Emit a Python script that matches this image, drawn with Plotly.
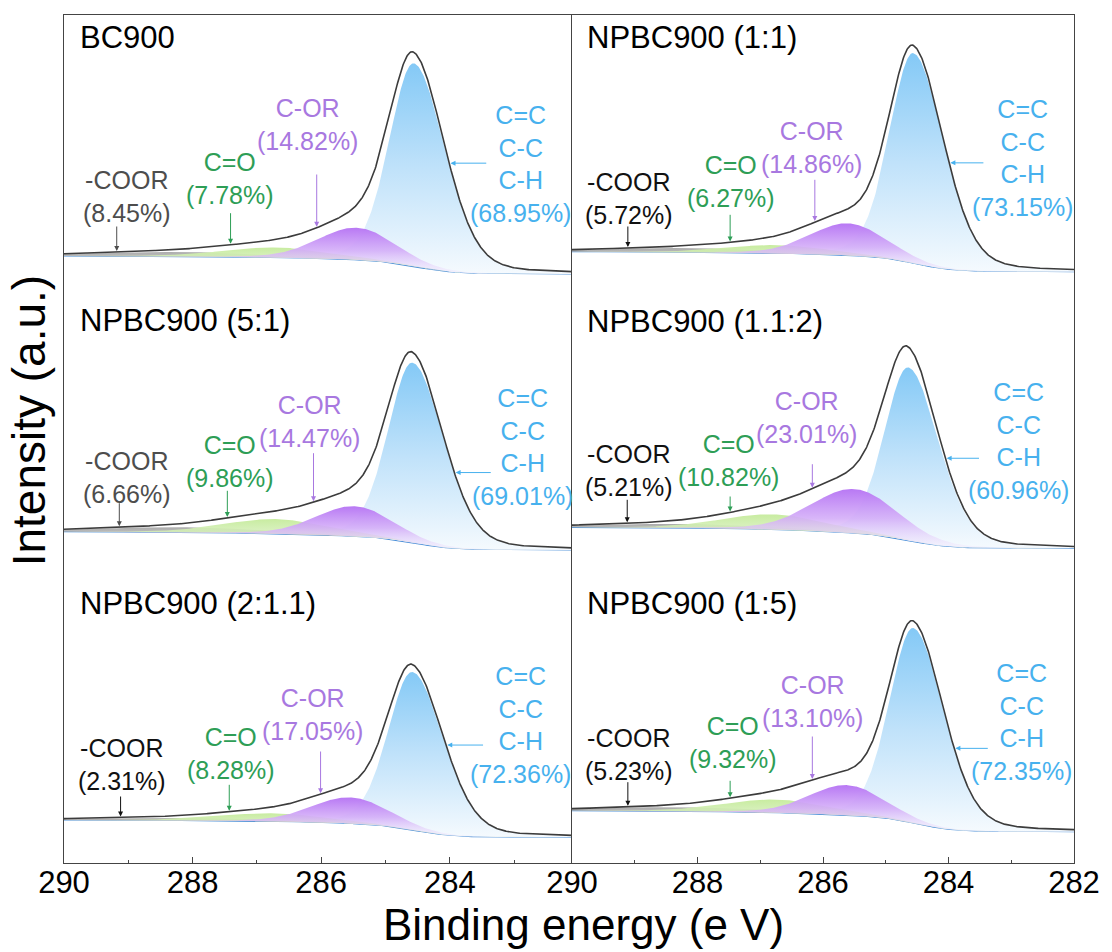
import numpy as np
import plotly.graph_objects as go

# ---------------- data ----------------
samples = ["BC900", "NPBC900 (5:1)", "NPBC900 (2:1.1)",
           "NPBC900 (1:1)", "NPBC900 (1.1:2)", "NPBC900 (1:5)"]
pct_cc = [68.95, 69.01, 72.36, 73.15, 60.96, 72.35]
pct_cor = [14.82, 14.47, 17.05, 14.86, 23.01, 13.10]
pct_co = [7.78, 9.86, 8.28, 6.27, 10.82, 9.32]
pct_coor = [8.45, 6.66, 2.31, 5.72, 5.21, 5.23]

# fitted peak parameters (binding energy in eV, heights in a.u.)
cc_center = [284.56, 284.58, 284.58, 284.56, 284.64, 284.56]
cc_height = [203, 180, 158, 210, 173, 195]
cor_center = [285.45, 285.48, 285.55, 285.60, 285.50, 285.62]
cor_height = [32, 30, 26, 32, 44, 30]
cor_fwhm = [1.4, 1.4, 1.4, 1.4, 1.6, 1.4]
co_center = [286.70, 286.70, 286.75, 286.72, 286.80, 286.75]
co_height = [10, 14.5, 8, 8, 15, 13]
coor_center = [288.2, 288.2, 288.2, 288.2, 288.2, 288.2]
coor_height = [4.5, 5, 2.5, 4, 4, 4]
# Shirley background level at the high-BE (290 eV) and low-BE (282 eV) ends,
# including the vertical stacking offset of each spectrum
bg_high = [607, 331.3, 43, 611.3, 335.7, 52.3]
bg_low = [589, 313, 25.7, 591.3, 314.7, 31.3]

x_ticks = [290, 288, 286, 284, 282]

# ---------------- layout constants ----------------
FONT = "Liberation Sans, Arial, sans-serif"
C_BLUE = "#47b1ee"
C_PURPLE = "#a878e0"
C_GREEN = "#2e9e56"
coor_colors = ["#4d4d4d", "#4d4d4d", "#111111", "#111111", "#111111", "#111111"]

# label positions (eV, a.u.) and arrow positions
lab_coor = [(289.02, 666.3), (289.02, 386), (289.10, 98.8), (289.09, 665), (289.09, 392.2), (289.09, 108.8)]
lab_co = [(287.42, 684.7), (287.42, 401.8), (287.41, 109.2), (287.47, 681.5), (287.51, 402.2), (287.43, 120.5)]
lab_cor = [(286.21, 738.5), (286.19, 441.8), (286.13, 148.3), (286.19, 715.2), (286.27, 445.3), (286.16, 161.8)]
lab_cc = [(282.90, 699), (282.87, 416), (282.90, 138.5), (282.82, 704.8), (282.89, 421.8), (282.84, 141.3)]
arr_coor = [(289.18, 638), (289.14, 361.3), (289.12, 68), (289.11, 638), (289.12, 364.7), (289.11, 82.3)]
arr_co = [(287.41, 651.3), (287.46, 373.7), (287.43, 79.7), (287.48, 649.7), (287.48, 368), (287.48, 83.7)]
arr_cor = [(286.07, 690), (286.12, 411.3), (286.01, 113), (286.13, 684.7), (286.17, 400.3), (286.17, 128)]
arr_cc = [(284.01, 283.41), (283.93, 283.34), (284.06, 283.46), (283.99, 283.42), (284.05, 283.49), (283.91, 283.35)]
title_y = [825.5, 543, 259.7, 825.7, 541.3, 259.7]

E = np.linspace(282.0, 290.0, 801)


def gl(e, c, h, hw_hi, hw_lo, m):
    w = np.where(e >= c, hw_hi, hw_lo)
    r = (e - c) / w
    return h * ((1 - m) * np.power(2.0, -r ** 2) + m / (1 + r ** 2))


fig = go.Figure()
annotations = []

blue_cs = [[0, "rgb(245,250,254)"], [0.5, "rgb(192,226,250)"], [1, "rgb(132,201,246)"]]
purple_cs = [[0, "rgba(242,234,252,0.4)"], [0.5, "rgba(212,174,248,0.9)"], [1, "rgb(184,120,244)"]]
green_cs = [[0, "rgba(230,244,218,0.7)"], [1, "rgb(200,236,160)"]]
gray_cs = [[0, "rgba(225,225,225,0.7)"], [1, "rgb(172,172,172)"]]

for i in range(6):
    xa = "x" if i < 3 else "x2"
    ya = "y" if i < 3 else "y2"
    cc = gl(E, cc_center[i], cc_height[i], 0.45, 0.57, 0.2)
    cor = gl(E, cor_center[i], cor_height[i], cor_fwhm[i] / 2, cor_fwhm[i] / 2, 0.1)
    co = gl(E, co_center[i], co_height[i], 0.95, 0.95, 0.1)
    coor = gl(E, coor_center[i], coor_height[i], 1.6, 1.6, 0.1)
    total = cc + cor + co + coor
    cum = np.concatenate([[0], np.cumsum((total[1:] + total[:-1]) / 2 * np.diff(E))])
    bg = bg_low[i] + (bg_high[i] - bg_low[i]) * cum / cum[-1]
    env = bg + total

    fig.add_trace(go.Scatter(x=E, y=bg, mode="lines", line=dict(color="#4a8fd8", width=1.2),
                             xaxis=xa, yaxis=ya, hoverinfo="skip", showlegend=False))
    for comp, cs in [(cc, blue_cs), (coor, gray_cs), (co, green_cs), (cor, purple_cs)]:
        fig.add_trace(go.Scatter(
            x=np.concatenate([E, E[::-1]]),
            y=np.concatenate([bg + comp, bg[::-1]]),
            mode="lines", line=dict(width=0), fill="toself",
            fillgradient=dict(type="vertical", colorscale=cs),
            xaxis=xa, yaxis=ya, hoverinfo="skip", showlegend=False))
    fig.add_trace(go.Scatter(x=E, y=env, mode="lines", line=dict(color="#3c3c3c", width=1.6),
                             xaxis=xa, yaxis=ya, hoverinfo="skip", showlegend=False))

    # panel title
    annotations.append(dict(x=289.79, y=title_y[i], xref=xa, yref=ya, text=samples[i],
                            showarrow=False, xanchor="left", yanchor="middle",
                            font=dict(family=FONT, size=31, color="#000")))
    # component labels
    annotations.append(dict(x=lab_coor[i][0], y=lab_coor[i][1], xref=xa, yref=ya,
                            text=f"-COOR<br>({pct_coor[i]:.2f}%)", showarrow=False,
                            font=dict(family=FONT, size=25, color=coor_colors[i])))
    annotations.append(dict(x=lab_co[i][0], y=lab_co[i][1], xref=xa, yref=ya,
                            text=f"C=O<br>({pct_co[i]:.2f}%)", showarrow=False,
                            font=dict(family=FONT, size=25, color=C_GREEN)))
    annotations.append(dict(x=lab_cor[i][0], y=lab_cor[i][1], xref=xa, yref=ya,
                            text=f"C-OR<br>({pct_cor[i]:.2f}%)", showarrow=False,
                            font=dict(family=FONT, size=25, color=C_PURPLE)))
    annotations.append(dict(x=lab_cc[i][0], y=lab_cc[i][1], xref=xa, yref=ya,
                            text=f"C=C<br>C-C<br>C-H<br>({pct_cc[i]:.2f}%)", showarrow=False,
                            font=dict(family=FONT, size=25, color=C_BLUE)))
    # arrows
    for (ex, tail), col in [(arr_coor[i], coor_colors[i]), (arr_co[i], C_GREEN), (arr_cor[i], C_PURPLE)]:
        tip = float(np.interp(ex, E, env)) + 1
        annotations.append(dict(x=ex, y=tip, ax=ex, ay=tail, xref=xa, yref=ya, axref=xa, ayref=ya,
                                text="", showarrow=True, arrowhead=2, arrowsize=1, arrowwidth=1,
                                arrowcolor=col))
    ex_tip, ex_tail = arr_cc[i]
    yv = float(np.interp(ex_tip, E, env))
    annotations.append(dict(x=ex_tip - 0.02, y=yv, ax=ex_tail, ay=yv, xref=xa, yref=ya, axref=xa, ayref=ya,
                            text="", showarrow=True, arrowhead=2, arrowsize=1, arrowwidth=1,
                            arrowcolor=C_BLUE))

annotations.append(dict(x=0.514, y=-0.0731, xref="paper", yref="paper", text="Binding energy (e V)",
                        showarrow=False, xanchor="center", yanchor="middle",
                        font=dict(family=FONT, size=44, color="#000")))
annotations.append(dict(x=-0.0347, y=0.522, xref="paper", yref="paper", text="Intensity (a.u.)",
                        showarrow=False, textangle=-90, xanchor="center", yanchor="middle",
                        font=dict(family=FONT, size=46, color="#000")))

line_common = dict(showgrid=False, zeroline=False, showline=True, linecolor="#444", linewidth=1.3)
split = 508 / 1010
xtick_common = dict(ticks="inside", ticklen=6, tickcolor="#444", ticklabelstandoff=-8,
                    minor=dict(tickvals=[289, 287, 285, 283], ticks="inside", ticklen=3, tickcolor="#444"),
                    tickfont=dict(family=FONT, size=31, color="#000"), mirror=True)

fig.update_layout(
    width=1112, height=952,
    margin=dict(l=64, r=38, t=15, b=89),
    paper_bgcolor="white", plot_bgcolor="white",
    showlegend=False,
    xaxis=dict(domain=[0, split], range=[290, 282.1], tickvals=x_ticks[:4], anchor="y",
               **xtick_common, **line_common),
    xaxis2=dict(domain=[split, 1], range=[290, 282], tickvals=x_ticks, anchor="y2",
                **xtick_common, **line_common),
    yaxis=dict(range=[0, 848], showticklabels=False, ticks="", anchor="x", mirror=False, **line_common),
    yaxis2=dict(range=[0, 848], showticklabels=False, ticks="", anchor="x2", mirror=True, **line_common),
    annotations=annotations,
)

fig.write_html("out.html")
